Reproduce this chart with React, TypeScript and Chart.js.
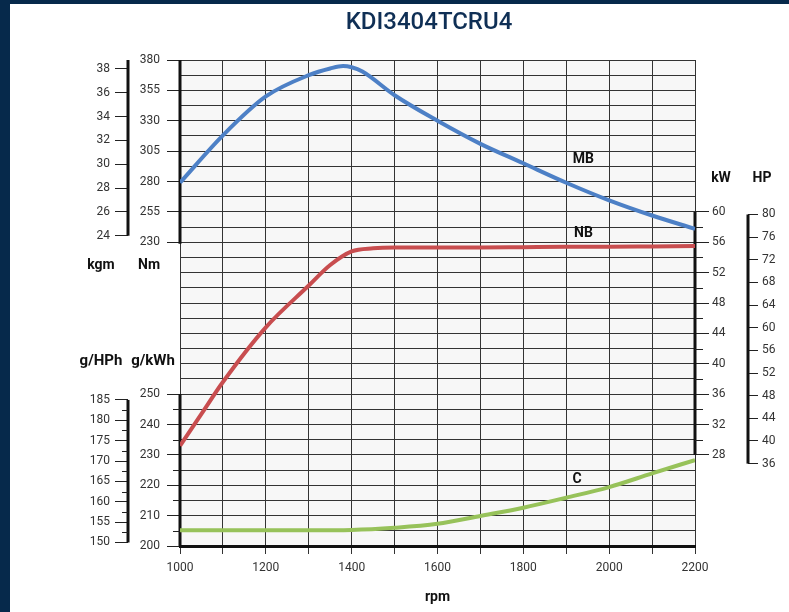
import React, { useEffect, useRef } from "react";
import { Chart, registerables } from "chart.js";

Chart.register(...registerables);

// ---------- data ----------
const chartTitle = "KDI3404TCRU4";

const torqueRpm = [1000, 1100, 1200, 1300, 1350, 1380, 1400, 1425, 1500, 1600, 1700, 1800, 1900, 2000, 2100, 2200];
const torqueNm = [279, 318, 350, 367.5, 373, 375, 374, 370.5, 351, 330, 311, 295, 279, 264.5, 252, 241];

const powerRpm = [1000, 1050, 1100, 1200, 1300, 1350, 1400, 1450, 1500, 1600, 1700, 1800, 1900, 2000, 2100, 2200];
const powerKw = [29.2, 33.4, 37.6, 44.8, 50.3, 53.0, 54.8, 55.2, 55.3, 55.3, 55.3, 55.35, 55.4, 55.4, 55.45, 55.5];

const consRpm = [1000, 1100, 1200, 1300, 1400, 1500, 1600, 1700, 1800, 1900, 2000, 2100, 2200];
const consGkwh = [205.2, 205.2, 205.2, 205.2, 205.3, 206.0, 207.3, 209.9, 212.6, 215.9, 219.4, 223.9, 228.3];

const rpmLabels = [1000, 1200, 1400, 1600, 1800, 2000, 2200];
const nmTicks = [230, 255, 280, 305, 330, 355, 380];
const kgmTicks = [24, 26, 28, 30, 32, 34, 36, 38];
const gkwhTicks = [200, 210, 220, 230, 240, 250];
const gkwhMinorTicks = [205, 215, 225, 235, 245];
const ghphTicks = [150, 155, 160, 165, 170, 175, 180, 185];
const ghphMinorTicks = [152.5, 157.5, 162.5, 167.5, 172.5, 177.5, 182.5];
const kwTicks = [28, 32, 36, 40, 44, 48, 52, 56, 60];
const kwMinorTicks = [30, 34, 38, 42, 46, 50, 54, 58];
const hpTicks = [36, 40, 44, 48, 52, 56, 60, 64, 68, 72, 76, 80];

const curveNames = ["MB", "NB", "C"];
const curveLabelRpm = [1940, 1940, 1925];
const curveLabelValue = [298.5, 57.1, 221.8];

// ---------- scale geometry ----------
const ROWS = 32;
const RPM_RANGE = [1000, 2200];
const NM_RANGE = [-20, 380];
const GKWH_RANGE = [200, 360];
const KW_RANGE = [16, 80];
const NM_PER_KGM = 9.80665;
const KW_PER_HP = 0.7457;

const toRow = (v: number, r: number[]) => ((v - r[0]) / (r[1] - r[0])) * ROWS;
const rowNm = (v: number) => toRow(v, NM_RANGE);
const rowKgm = (v: number) => rowNm(v * NM_PER_KGM);
const rowG = (v: number) => toRow(v, GKWH_RANGE);
const rowGhp = (v: number) => rowG(v / KW_PER_HP);
const rowKw = (v: number) => toRow(v, KW_RANGE);
const rowHp = (v: number) => rowKw(v * KW_PER_HP);

type Lbl = { row: number; text: string };
const L1_LABELS: Lbl[] = [
  ...nmTicks.map((v) => ({ row: rowNm(v), text: String(v) })),
  ...gkwhTicks.map((v) => ({ row: rowG(v), text: String(v) })),
];
const L2_LABELS: Lbl[] = [
  ...kgmTicks.map((v) => ({ row: rowKgm(v), text: String(v) })),
  ...ghphTicks.map((v) => ({ row: rowGhp(v), text: String(v) })),
];
const R1_LABELS: Lbl[] = kwTicks.map((v) => ({ row: rowKw(v), text: String(v) }));
const R2_LABELS: Lbl[] = hpTicks.map((v) => ({ row: rowHp(v), text: String(v) }));

const findLabel = (list: Lbl[], v: number) => list.find((l) => Math.abs(l.row - v) < 1e-6);

const GRID = "#333333";
const AXIS = "#111111";
const TICK_TEXT = "#333333";
const TICK_FONT = { family: "Roboto", size: 12 };

function rowScale(
  position: string,
  weight: number,
  rows: number[],
  labels: Lbl[],
  tickLength: number,
  padding: number,
  width: number,
  onArea: boolean
) {
  return {
    type: "linear",
    position,
    weight,
    min: 0,
    max: ROWS,
    afterBuildTicks: (s: any) => {
      s.ticks = rows.map((v) => ({ value: v }));
    },
    afterFit: (s: any) => {
      s.width = width;
    },
    ticks: {
      autoSkip: false,
      padding,
      font: TICK_FONT,
      color: TICK_TEXT,
      callback: (v: any) => {
        const l = findLabel(labels, Number(v));
        return l ? l.text : "";
      },
    },
    grid: {
      display: true,
      drawOnChartArea: onArea,
      drawTicks: true,
      tickLength,
      color: GRID,
      lineWidth: 1,
      tickWidth: 1,
      tickColor: (ctx: any) => (ctx.tick && findLabel(labels, ctx.tick.value) ? "#222" : "rgba(0,0,0,0)"),
    },
    border: { display: false },
  };
}

const decorPlugin = {
  id: "decor",
  beforeDraw(chart: any) {
    const { ctx, chartArea: a, width, height } = chart;
    ctx.save();
    ctx.fillStyle = "#ffffff";
    ctx.fillRect(0, 0, width, height);
    ctx.fillStyle = "#06294b";
    ctx.fillRect(0, 0, 10, height);
    ctx.fillRect(0, 0, width, 4);
    ctx.fillStyle = "#f7f7f7";
    ctx.fillRect(a.left, a.top, a.right - a.left, a.bottom - a.top);
    ctx.restore();
  },
  beforeDatasetsDraw(chart: any) {
    const { ctx, chartArea: a, scales } = chart;
    const L1 = scales.L1, L2 = scales.L2, R2 = scales.R2;
    const vline = (x: number, r1: number, r2: number, sc: any) => {
      ctx.beginPath();
      ctx.moveTo(x, sc.getPixelForValue(r1));
      ctx.lineTo(x, sc.getPixelForValue(r2));
      ctx.stroke();
    };
    ctx.save();
    ctx.strokeStyle = AXIS;
    ctx.lineWidth = 3;
    ctx.lineCap = "butt";
    vline(a.left, rowNm(nmTicks[0]) - 0.1, ROWS, L1);
    vline(a.left, 0, rowG(gkwhTicks[gkwhTicks.length - 1]), L1);
    vline(a.right, rowKw(kwTicks[0]), rowKw(kwTicks[kwTicks.length - 1]), L1);
    vline(L2.right, rowKgm(kgmTicks[0]), ROWS, L1);
    vline(L2.right, rowGhp(ghphTicks[0]), rowGhp(ghphTicks[ghphTicks.length - 1]), L1);
    vline(R2.left, rowHp(hpTicks[0]), rowHp(hpTicks[hpTicks.length - 1]), L1);

    ctx.lineWidth = 1;
    ctx.strokeStyle = "#222";
    const hTick = (x1: number, x2: number, row: number) => {
      const y = Math.round(L1.getPixelForValue(row)) + 0.5;
      ctx.beginPath();
      ctx.moveTo(x1, y);
      ctx.lineTo(x2, y);
      ctx.stroke();
    };
    gkwhMinorTicks.forEach((v) => hTick(a.left - 7, a.left, rowG(v)));
    ghphMinorTicks.forEach((v) => hTick(L2.right - 6, L2.right, rowGhp(v)));
    kwMinorTicks.forEach((v) => hTick(a.right, a.right + 8, rowKw(v)));
    ctx.restore();
  },
  afterDatasetsDraw(chart: any) {
    const { ctx, scales } = chart;
    const L1 = scales.L1, L2 = scales.L2, R1 = scales.R1, R2 = scales.R2, x = scales.x;
    ctx.save();
    ctx.textAlign = "center";
    ctx.textBaseline = "middle";

    ctx.fillStyle = "#0f2f55";
    ctx.font = "500 24px Roboto, 'Liberation Sans', sans-serif";
    ctx.fillText(chartTitle, 429, 23);

    ctx.fillStyle = "#111";
    ctx.font = "bold 14px Roboto, sans-serif";
    const yNmTitle = L1.getPixelForValue(rowNm(nmTicks[0])) + 23;
    ctx.fillText("kgm", L2.right - 27, yNmTitle);
    ctx.fillText("Nm", L1.left + 21, yNmTitle);
    ctx.font = "bold 15px Roboto, sans-serif";
    const yGTitle = L1.getPixelForValue(rowG(gkwhTicks[gkwhTicks.length - 1])) - 33;
    ctx.fillText("g/HPh", L2.right - 27, yGTitle);
    ctx.fillText("g/kWh", L1.left + 25, yGTitle);
    ctx.font = "bold 14px Roboto, sans-serif";
    const yKwTitle = L1.getPixelForValue(rowKw(kwTicks[kwTicks.length - 1])) - 33;
    ctx.fillText("kW", R1.left + 26, yKwTitle);
    ctx.fillText("HP", R2.left + 14, yKwTitle);

    const axes = [scales.nm, scales.kw, scales.gkwh];
    curveNames.forEach((n, i) => {
      ctx.fillText(n, x.getPixelForValue(curveLabelRpm[i]), axes[i].getPixelForValue(curveLabelValue[i]));
    });
    ctx.restore();
  },
};

export default function App() {
  const ref = useRef<HTMLCanvasElement | null>(null);

  useEffect(() => {
    if (!ref.current) return;
    Chart.defaults.font.family = "Roboto";
    const allRows = Array.from({ length: ROWS + 1 }, (_, i) => i);
    const chart = new Chart(ref.current, {
      type: "line",
      data: {
        datasets: [
          {
            label: "MB",
            data: torqueRpm.map((r, i) => ({ x: r, y: torqueNm[i] })),
            yAxisID: "nm",
            borderColor: "#4d80c6",
            borderWidth: 4,
            pointRadius: 0,
            cubicInterpolationMode: "monotone",
          },
          {
            label: "NB",
            data: powerRpm.map((r, i) => ({ x: r, y: powerKw[i] })),
            yAxisID: "kw",
            borderColor: "#c84d4f",
            borderWidth: 4,
            pointRadius: 0,
            cubicInterpolationMode: "monotone",
          },
          {
            label: "C",
            data: consRpm.map((r, i) => ({ x: r, y: consGkwh[i] })),
            yAxisID: "gkwh",
            borderColor: "#97c25a",
            borderWidth: 4,
            pointRadius: 0,
            cubicInterpolationMode: "monotone",
          },
        ],
      },
      options: {
        responsive: false,
        devicePixelRatio: 1,
        animation: false,
        layout: { padding: { top: 60, left: 0, right: 0, bottom: 0 } },
        plugins: { legend: { display: false }, tooltip: { enabled: false }, title: { display: false } },
        scales: {
          x: {
            type: "linear",
            position: "bottom",
            min: RPM_RANGE[0],
            max: RPM_RANGE[1],
            afterFit: (s: any) => {
              s.height = 66;
            },
            ticks: {
              stepSize: 100,
              autoSkip: false,
              maxRotation: 0,
              padding: 7,
              font: TICK_FONT,
              color: TICK_TEXT,
              callback: (v: any) => (rpmLabels.includes(Number(v)) ? String(v) : ""),
            },
            grid: { color: GRID, lineWidth: 1, tickLength: 8, tickColor: GRID, drawTicks: true },
            border: { display: true, color: AXIS, width: 3 },
            title: {
              display: true,
              text: "rpm",
              font: { family: "Roboto", size: 14, weight: "bold" },
              color: "#111",
              padding: { top: 0, bottom: 6 },
            },
          },
          L1: rowScale("left", 0, allRows, L1_LABELS, 13, 7, 52, true),
          L2: rowScale("left", 1, L2_LABELS.map((l) => l.row), L2_LABELS, 13, 5, 128, false),
          R1: rowScale("right", 0, R1_LABELS.map((l) => l.row), R1_LABELS, 14, 3, 53, false),
          R2: rowScale("right", 1, R2_LABELS.map((l) => l.row), R2_LABELS, 10, 4, 41, false),
          nm: { type: "linear", display: false, position: "left", weight: 5, min: NM_RANGE[0], max: NM_RANGE[1] },
          gkwh: { type: "linear", display: false, position: "left", weight: 6, min: GKWH_RANGE[0], max: GKWH_RANGE[1] },
          kw: { type: "linear", display: false, position: "right", weight: 5, min: KW_RANGE[0], max: KW_RANGE[1] },
        },
      } as any,
      plugins: [decorPlugin],
    } as any);
    return () => chart.destroy();
  }, []);

  return (
    <div style={{ position: "absolute", left: 0, top: 0, width: 789, height: 612 }}>
      <canvas ref={ref} width={789} height={612} style={{ display: "block", width: 789, height: 612 }} />
    </div>
  );
}
